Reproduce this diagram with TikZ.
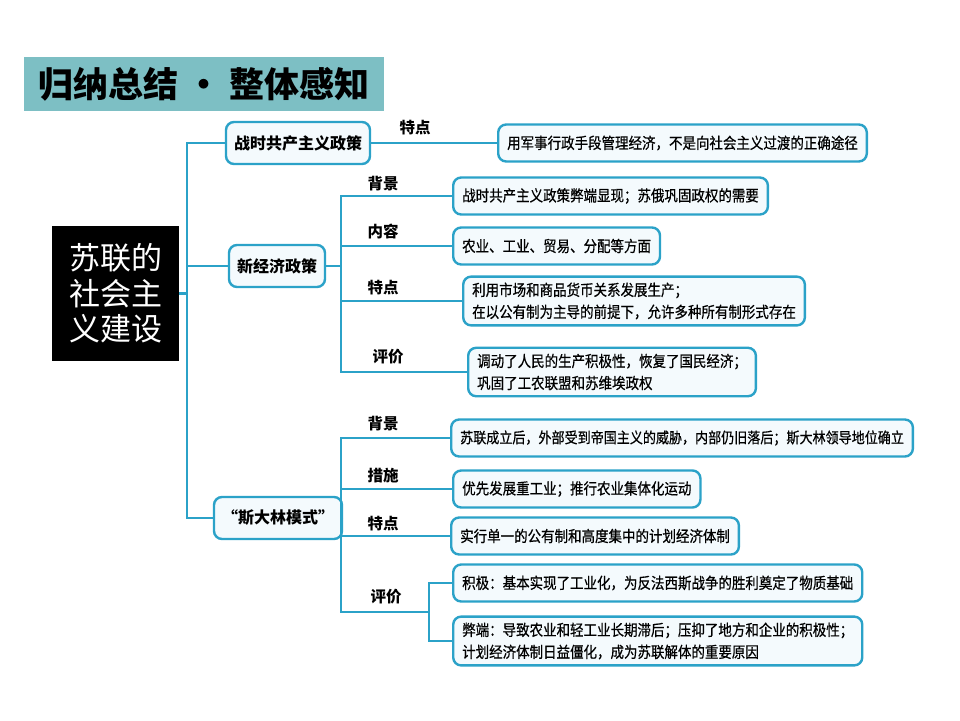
\documentclass[tikz,border=0pt]{standalone}
\usepackage{fontspec}
\usepackage{xcolor}
\newfontfamily\cjk{Noto Sans CJK SC}
\newfontfamily\cjkn[FakeStretch=0.87,FakeBold=0.6]{Noto Sans CJK SC}
\definecolor{lineblue}{HTML}{2BA2C8}
\definecolor{boxfill}{HTML}{F4FAFD}
\definecolor{titlebg}{HTML}{7DBFC4}

\tikzset{
  conn/.style={lineblue, line width=2.4pt},
  mainbox/.style={draw=lineblue, line width=2.4pt, rounded corners=8pt, fill=boxfill,
    font=\cjk\fontsize{16}{18}\selectfont\bfseries, inner xsep=8pt, minimum height=42pt},
  leaf/.style={draw=lineblue, line width=2.4pt, rounded corners=8pt, fill=boxfill,
    anchor=west, align=left, font=\cjkn\fontsize{15.5}{22}\selectfont,
    inner xsep=9pt, inner ysep=6pt, minimum height=37pt},
  lbl/.style={font=\cjk\fontsize{15.5}{17}\selectfont\bfseries},
}

\begin{document}
\begin{tikzpicture}[x=1pt,y=-1pt]
\useasboundingbox[fill=white] (0,0) rectangle (960,720);

% title bar
\node[fill=titlebg, minimum width=360pt, minimum height=54pt, inner sep=0pt,
  font=\cjk\fontsize{35}{40}\selectfont\bfseries] (title) at (204,84) {归纳总结 • 整体感知};

% root
\node[fill=black, text=white, minimum width=127pt, minimum height=135pt, align=center,
  font=\cjk\fontsize{31}{35.5}\selectfont] (root) at (115.5,293.5) {苏联的\\社会主\\义建设};

% first level
\node[mainbox] (zs) at (298,143) {战时共产主义政策};
\node[mainbox] (xj) at (277,266) {新经济政策};
\node[mainbox] (sd) at (278,518) {“斯大林模式”};

\coordinate (trk) at (187,266);
\draw[conn] (zs.west) -| (trk) |- (sd.west);
\draw[conn] (trk) -- (xj.west);
\draw[conn] (root.east) -- (root.east -| trk);

% war communism
\node[leaf] (zs1) at (497,143) {用军事行政手段管理经济，不是向社会主义过渡的正确途径};
\draw[conn] (zs) -- (zs1);
\node[lbl] (zsl) at (415,128) {特点};

% new economic policy
\node[leaf] (xj1) at (452,196) {战时共产主义政策弊端显现；苏俄巩固政权的需要};
\node[leaf] (xj2) at (452,246) {农业、工业、贸易、分配等方面};
\node[leaf] (xj3) at (462,301) {利用市场和商品货币关系发展生产；\\在以公有制为主导的前提下，允许多种所有制形式存在};
\node[leaf] (xj4) at (467,372) {调动了人民的生产积极性，恢复了国民经济；\\巩固了工农联盟和苏维埃政权};
\coordinate (xt) at (341,266);
\draw[conn] (xj.east) -- (xt);
\draw[conn] (xj1.west) -| (xt) |- (xj4.west);
\draw[conn] (xj2.west) -- (xj2.west -| xt);
\draw[conn] (xj3.west) -- (xj3.west -| xt);
\node[lbl] (xjl1) at (383,184) {背景};
\node[lbl] (xjl2) at (383,232) {内容};
\node[lbl] (xjl3) at (383,288) {特点};
\node[lbl] (xjl4) at (388,357) {评价};

% stalin model
\node[leaf, font=\cjkn\fontsize{15}{22}\selectfont] (sd1) at (450,438) {苏联成立后，外部受到帝国主义的威胁，内部仍旧落后；斯大林领导地位确立};
\node[leaf] (sd2) at (452,489) {优先发展重工业；推行农业集体化运动};
\node[leaf] (sd3) at (450,536) {实行单一的公有制和高度集中的计划经济体制};
\node[leaf] (sd4) at (452,583) {积极：基本实现了工业化，为反法西斯战争的胜利奠定了物质基础};
\node[leaf] (sd5) at (452,641) {弊端：导致农业和轻工业长期滞后；压抑了地方和企业的积极性；\\计划经济体制日益僵化，成为苏联解体的重要原因};
\coordinate (st) at (341,518);
\coordinate (pj) at (429,612);
\draw[conn] (sd.east) -- (st);
\draw[conn] (sd1.west) -| (st) |- (pj);
\draw[conn] (sd2.west) -- (sd2.west -| st);
\draw[conn] (sd3.west) -- (sd3.west -| st);
\draw[conn] (sd4.west) -| (pj) |- (sd5.west);
\node[lbl] (sdl1) at (383,424) {背景};
\node[lbl] (sdl2) at (383,476) {措施};
\node[lbl] (sdl3) at (383,524) {特点};
\node[lbl] (sdl4) at (386,597) {评价};
\end{tikzpicture}
\end{document}
